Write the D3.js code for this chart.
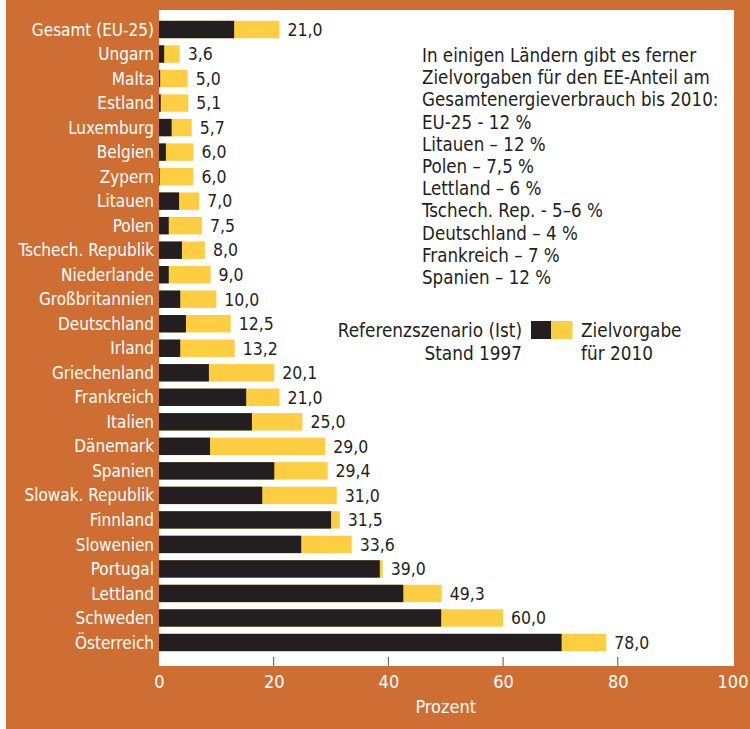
<!DOCTYPE html>
<html>
<head>
<meta charset="utf-8">
<script src="https://cdn.jsdelivr.net/npm/d3@7"></script>
<style>
body{margin:0;background:#fff;}
svg text{font-family:"Liberation Sans Narrow","DejaVu Sans Condensed",sans-serif;}
</style>
</head>
<body>
<div id="chart"></div>
<script>
// countries, top to bottom
var countries = ['Gesamt (EU-25)','Ungarn','Malta','Estland','Luxemburg','Belgien','Zypern','Litauen','Polen',
	'Tschech. Republik','Niederlande','Großbritannien','Deutschland','Irland','Griechenland','Frankreich',
	'Italien','Dänemark','Spanien','Slowak. Republik','Finnland','Slowenien','Portugal','Lettland','Schweden','Österreich'];
// Referenzszenario (Ist) Stand 1997
var actual1997 = [13.1,0.9,0.2,0.3,2.2,1.2,0.1,3.5,1.7,
	4.0,1.7,3.7,4.7,3.7,8.7,15.2,
	16.2,8.9,20.1,18.0,30.0,24.8,38.5,42.6,49.2,70.2];
// Zielvorgabe fuer 2010
var target2010 = [21.0,3.6,5.0,5.1,5.7,6.0,6.0,7.0,7.5,
	8.0,9.0,10.0,12.5,13.2,20.1,21.0,
	25.0,29.0,29.4,31.0,31.5,33.6,39.0,49.3,60.0,78.0];
var xTicks = [0,20,40,60,80,100];
var noteLines = ['In einigen Ländern gibt es ferner','Zielvorgaben für den EE-Anteil am',
	'Gesamtenergieverbrauch bis 2010:','EU-25 - 12 %','Litauen – 12 %','Polen – 7,5 %','Lettland – 6 %',
	'Tschech. Rep. - 5–6 %','Deutschland – 4 %','Frankreich – 7 %','Spanien – 12 %'];

var W = 750, H = 729;
var orange = '#cf6e33', yellow = '#fdcd42', black = '#231f20';
var fmt = function(v){ return v.toFixed(1).replace('.', ','); };

var svg = d3.select('#chart').append('svg').attr('width', W).attr('height', H);
svg.append('rect').attr('x', 6).attr('y', 0).attr('width', W - 6).attr('height', H).attr('fill', orange);

var plot = {left: 159, top: 10, right: 734, bottom: 666};
svg.append('rect').attr('x', plot.left).attr('y', plot.top)
	.attr('width', plot.right - plot.left).attr('height', plot.bottom - plot.top).attr('fill', '#fff');

var x = d3.scaleLinear().domain([0, 100]).range([159, 732.5]);
var y = d3.scaleBand().domain(countries).range([17.25, 654.75]).paddingInner(0.29).paddingOuter(0.145);

var rows = svg.append('g').selectAll('g').data(countries).enter().append('g');
//yellow target bar first, black on top
rows.append('rect')
	.attr('x', x(0)).attr('y', function(d){ return y(d); })
	.attr('width', function(d, i){ return x(target2010[i]) - x(0); })
	.attr('height', y.bandwidth()).attr('fill', yellow);
rows.append('rect')
	.attr('x', x(0)).attr('y', function(d){ return y(d); })
	.attr('width', function(d, i){ return x(actual1997[i]) - x(0); })
	.attr('height', y.bandwidth()).attr('fill', black);
rows.append('text')
	.attr('x', function(d, i){ return x(target2010[i]) + 8; })
	.attr('y', function(d){ return y(d) + y.bandwidth() / 2; })
	.attr('dy', '0.36em').attr('font-size', 17.5).attr('fill', black)
	.text(function(d, i){ return fmt(target2010[i]); });
rows.append('text')
	.attr('x', 154).attr('y', function(d){ return y(d) + y.bandwidth() / 2; })
	.attr('dy', '0.36em').attr('text-anchor', 'end').attr('font-size', 17).attr('fill', '#fff')
	.text(function(d){ return d; });

//axis: ticks inside plot, labels below
var axis = d3.axisBottom(x).tickValues(xTicks).tickSize(0).tickPadding(9)
	.tickFormat(d3.format('d'));
var gx = svg.append('g').attr('transform', 'translate(0,' + plot.bottom + ')').call(axis);
gx.select('.domain').remove();
gx.selectAll('text').attr('fill', '#fff').attr('font-size', 18)
	.style('font-family', '"Liberation Sans Narrow","DejaVu Sans Condensed",sans-serif');
svg.append('g').selectAll('line').data(xTicks.slice(1, -1)).enter().append('line')
	.attr('x1', function(d){ return x(d); }).attr('x2', function(d){ return x(d); })
	.attr('y1', plot.bottom - 9).attr('y2', plot.bottom)
	.attr('stroke', '#555').attr('stroke-width', 1);
svg.append('text').attr('x', (x(0) + x(100)) / 2).attr('y', 713)
	.attr('text-anchor', 'middle').attr('font-size', 18).attr('fill', '#fff').text('Prozent');

//note block
svg.append('text').attr('font-size', 18.6).attr('fill', black)
	.selectAll('tspan').data(noteLines).enter().append('tspan')
	.attr('x', 422).attr('y', function(d, i){ return 62 + i * 22.2; })
	.text(function(d){ return d; });

//legend
var lg = svg.append('g').attr('font-size', 18.8).attr('fill', black);
lg.append('rect').attr('x', 531).attr('y', 321).attr('width', 20).attr('height', 18).attr('fill', black);
lg.append('rect').attr('x', 551).attr('y', 321).attr('width', 21.5).attr('height', 18).attr('fill', yellow);
lg.append('text').attr('x', 522).attr('y', 337).attr('text-anchor', 'end').text('Referenzszenario (Ist)');
lg.append('text').attr('x', 522).attr('y', 360).attr('text-anchor', 'end').text('Stand 1997');
lg.append('text').attr('x', 581).attr('y', 337).text('Zielvorgabe');
lg.append('text').attr('x', 581).attr('y', 360).text('für 2010');
</script>
</body>
</html>
